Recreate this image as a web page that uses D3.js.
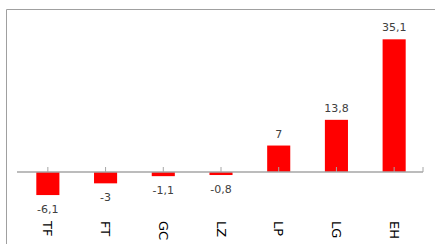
<!DOCTYPE html>
<html><head><meta charset="utf-8">
<script src="https://cdn.jsdelivr.net/npm/d3@7/dist/d3.min.js"></script>
<style>body{margin:0;background:#fff;}svg{display:block;}</style>
</head><body>
<script>
const categories = ["TF","FT","GC","LZ","LP","LG","EH"];
const values = [-6.1,-3,-1.1,-0.8,7,13.8,35.1];
const labels = ["-6,1","-3","-1,1","-0,8","7","13,8","35,1"];

const W = 435, H = 244;
const svg = d3.select("body").append("svg").attr("width", W).attr("height", H);

// border
svg.append("path").attr("d", "M6.5,244 V9.5 H435").attr("fill","none").attr("stroke","#a0a0a0").attr("stroke-width",1);

const x = d3.scaleBand().domain(categories).range([19, 423]).paddingInner(0.6).paddingOuter(0.3);
const y = d3.scaleLinear().domain([-10, 40]).range([172 + 37.8, 172 - 151.2]);

// bars
svg.selectAll("rect.bar").data(values).enter().append("rect")
  .attr("x", (d,i) => x(categories[i]))
  .attr("width", x.bandwidth())
  .attr("y", d => Math.min(y(d), y(0)))
  .attr("height", d => Math.abs(y(d) - y(0)))
  .attr("fill", "#ff0000");

// axis line
const y0 = y(0);
svg.append("line").attr("x1",17).attr("x2",423).attr("y1",y0).attr("y2",y0)
  .attr("stroke","#a6a6a6").attr("stroke-width",1.5);
// ticks
const tickX = categories.map(c => x(c) + x.bandwidth()/2).concat([423]);
svg.selectAll("line.tick").data(tickX).enter().append("line")
  .attr("x1", d=>d).attr("x2", d=>d).attr("y1", y0-5).attr("y2", y0)
  .attr("stroke","#a6a6a6").attr("stroke-width",1);

// value labels
svg.selectAll("text.val").data(values).enter().append("text")
  .attr("x", (d,i) => x(categories[i]) + x.bandwidth()/2)
  .attr("y", d => d >= 0 ? y(d) - 8 : y(d) + 18)
  .attr("text-anchor","middle")
  .attr("font-family","DejaVu Sans, Verdana, sans-serif")
  .attr("font-size", 11)
  .attr("fill","#404040")
  .text((d,i) => labels[i]);

// category labels rotated
svg.selectAll("text.cat").data(categories).enter().append("text")
  .attr("transform", c => `translate(${x(c) + x.bandwidth()/2 - 4.5},221) rotate(90)`)
  .attr("text-anchor","start")
  .attr("font-family","DejaVu Sans, Verdana, sans-serif")
  .attr("font-size", 13)
  .attr("fill","#000")
  .text(c => c);
</script>
</body></html>
